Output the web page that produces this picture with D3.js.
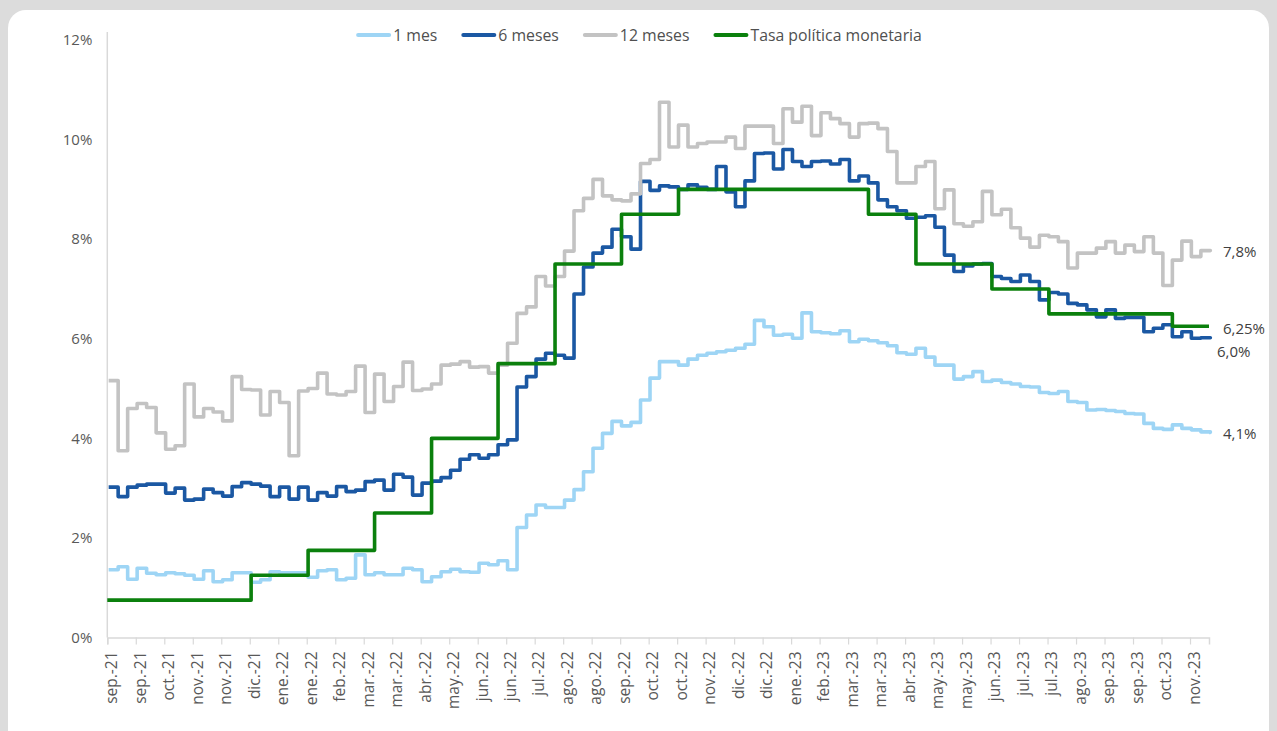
<!DOCTYPE html>
<html lang="es">
<head>
<meta charset="utf-8">
<script src="https://cdn.jsdelivr.net/npm/d3@7"></script>
<style>
  html, body { margin: 0; padding: 0; background: #dcdcdc; }
  svg { display: block; font-family: "Open Sans", "Noto Sans", sans-serif; }
</style>
</head>
<body>
<svg id="chart" width="1277" height="731"></svg>
<script>
// Weekly rates (%), one value per week starting 2021-09-01
const uno = [
  1.36, 1.42, 1.17, 1.39, 1.29, 1.26, 1.30, 1.28, 1.25, 1.17,
  1.34, 1.12, 1.16, 1.30, 1.30, 1.11, 1.16, 1.32, 1.30, 1.30,
  1.30, 1.21, 1.34, 1.36, 1.16, 1.19, 1.66, 1.26, 1.30, 1.26,
  1.26, 1.39, 1.36, 1.12, 1.22, 1.32, 1.37, 1.32, 1.31, 1.49,
  1.46, 1.54, 1.36, 2.21, 2.46, 2.66, 2.61, 2.61, 2.76, 2.97,
  3.33, 3.80, 4.10, 4.34, 4.25, 4.32, 4.77, 5.21, 5.54, 5.54,
  5.47, 5.59, 5.67, 5.71, 5.74, 5.77, 5.81, 5.89, 6.37, 6.24,
  6.07, 6.09, 6.01, 6.52, 6.14, 6.12, 6.10, 6.16, 5.94, 5.99,
  5.96, 5.92, 5.86, 5.72, 5.69, 5.81, 5.63, 5.47, 5.47, 5.19,
  5.24, 5.34, 5.14, 5.17, 5.12, 5.09, 5.04, 5.03, 4.92, 4.90,
  4.94, 4.74, 4.72, 4.57, 4.58, 4.56, 4.54, 4.50, 4.49, 4.30,
  4.20, 4.18, 4.27, 4.20, 4.17, 4.13, 4.12
];
const seis = [
  3.02, 2.83, 3.02, 3.06, 3.08, 3.08, 2.90, 3.00, 2.76, 2.78,
  2.98, 2.91, 2.84, 3.03, 3.11, 3.08, 3.04, 2.83, 3.02, 2.78,
  3.02, 2.76, 2.91, 2.84, 3.03, 2.93, 2.96, 3.13, 3.16, 2.96,
  3.28, 3.22, 2.86, 3.10, 3.14, 3.21, 3.36, 3.58, 3.67, 3.60,
  3.67, 3.87, 3.97, 5.03, 5.24, 5.59, 5.71, 5.67, 5.61, 6.90,
  7.44, 7.72, 7.84, 8.20, 8.05, 7.80, 9.16, 8.98, 9.07, 9.05,
  9.00, 9.09, 9.04, 9.00, 9.46, 8.95, 8.65, 9.17, 9.72, 9.73,
  9.41, 9.80, 9.56, 9.46, 9.56, 9.57, 9.51, 9.60, 9.17, 9.27,
  9.13, 8.79, 8.65, 8.57, 8.42, 8.44, 8.47, 8.24, 7.68, 7.35,
  7.46, 7.50, 7.51, 7.25, 7.21, 7.15, 7.28, 7.15, 6.78, 6.93,
  6.90, 6.71, 6.68, 6.58, 6.44, 6.58, 6.41, 6.43, 6.43, 6.14,
  6.21, 6.28, 6.04, 6.14, 6.01, 6.02, 6.02
];
const doce = [
  5.16, 3.75, 4.60, 4.70, 4.62, 4.11, 3.78, 3.85, 5.09, 4.43,
  4.60, 4.53, 4.35, 5.24, 4.98, 4.97, 4.47, 4.94, 4.72, 3.65,
  4.95, 5.00, 5.31, 4.89, 4.87, 4.94, 5.45, 4.52, 5.29, 4.74,
  5.04, 5.53, 4.96, 4.99, 5.09, 5.47, 5.49, 5.54, 5.43, 5.44,
  5.31, 5.47, 5.91, 6.51, 6.64, 7.25, 7.06, 7.25, 7.76, 8.57,
  8.82, 9.20, 8.87, 8.79, 8.77, 8.91, 9.52, 9.60, 10.75, 9.85,
  10.29, 9.85, 9.92, 9.95, 9.95, 10.05, 9.82, 10.27, 10.27, 10.27,
  9.92, 10.62, 10.35, 10.67, 10.08, 10.54, 10.42, 10.32, 10.05, 10.32,
  10.33, 10.22, 9.76, 9.13, 9.13, 9.46, 9.56, 8.61, 8.99, 8.31,
  8.26, 8.35, 8.96, 8.49, 8.60, 8.23, 8.02, 7.84, 8.08, 8.05,
  7.95, 7.42, 7.72, 7.72, 7.82, 7.95, 7.72, 7.88, 7.75, 8.05,
  7.72, 7.07, 7.58, 7.96, 7.65, 7.77, 7.77
];

// Monetary policy rate: effective dates and levels (%)
const tpmDates = [
  "2021-09-01", "2021-12-16", "2022-01-27", "2022-03-17", "2022-04-28",
  "2022-06-16", "2022-07-28", "2022-09-15", "2022-10-27", "2023-03-16",
  "2023-04-20", "2023-06-15", "2023-07-27", "2023-10-26"
];
const tpmValues = [0.75, 1.25, 1.75, 2.5, 4.0, 5.5, 7.5, 8.5, 9.0, 8.5, 7.5, 7.0, 6.5, 6.25];

// Axis labels (one every 21 days from the first date)
const xTickLabels = [
  "sep.-21", "sep.-21", "oct.-21", "nov.-21", "nov.-21", "dic.-21", "ene.-22", "ene.-22",
  "feb.-22", "mar.-22", "mar.-22", "abr.-22", "may.-22", "jun.-22", "jun.-22", "jul.-22",
  "ago.-22", "ago.-22", "sep.-22", "oct.-22", "oct.-22", "nov.-22", "dic.-22", "dic.-22",
  "ene.-23", "feb.-23", "mar.-23", "mar.-23", "abr.-23", "may.-23", "may.-23", "jun.-23",
  "jul.-23", "jul.-23", "ago.-23", "sep.-23", "sep.-23", "oct.-23", "nov.-23"
];
const yTicks = [0, 2, 4, 6, 8, 10, 12];

const seriesNames = ["1 mes", "6 meses", "12 meses", "Tasa política monetaria"];
const endLabels = ["4,1%", "6,0%", "7,8%", "6,25%"];

// ---------------------------------------------------------------
const parse = d3.timeParse("%Y-%m-%d");
const startDate = parse("2021-09-01");
const endDate = parse("2023-11-22");

const colors = ["#9ed5f5", "#1b58a3", "#c3c3c3", "#0b800d"];

const svg = d3.select("#chart");

// card
svg.append("rect").attr("x", 0).attr("y", 0).attr("width", 1277).attr("height", 731).attr("fill", "#dcdcdc");
svg.append("rect").attr("x", 8).attr("y", 10).attr("width", 1261).attr("height", 780)
  .attr("rx", 18).attr("fill", "#ffffff");

const x = d3.scaleTime().domain([startDate, endDate]).range([107.3, 1209]);
const y = d3.scaleLinear().domain([0, 12]).range([637.5, 40]);

const weekDates = uno.map((_, i) => d3.timeDay.offset(startDate, 7 * i + 1));
const tickDates = xTickLabels.map((_, i) => d3.timeDay.offset(startDate, 21 * i));

// y axis
svg.append("line")
  .attr("x1", x.range()[0]).attr("x2", x.range()[0])
  .attr("y1", 32).attr("y2", y(0))
  .attr("stroke", "#d9d9d9").attr("stroke-width", 1.5);

const yAxis = svg.append("g")
  .attr("transform", `translate(${x.range()[0]},0)`)
  .call(d3.axisLeft(y).tickValues(yTicks).tickSize(0).tickPadding(15)
    .tickFormat(d => d + "%"));
yAxis.select(".domain").remove();
yAxis.selectAll("text")
  .attr("fill", "#595959").attr("font-size", 15)
  .attr("font-family", "'Open Sans', sans-serif");

// x axis
const xAxis = svg.append("g")
  .attr("transform", `translate(0,${y(0)})`)
  .call(d3.axisBottom(x).tickValues(tickDates).tickSize(7)
    .tickFormat((d, i) => xTickLabels[i]));
xAxis.select(".domain").attr("stroke", "#d9d9d9").attr("stroke-width", 1.5);
xAxis.selectAll(".tick line").attr("stroke", "#d9d9d9").attr("stroke-width", 1.2);
xAxis.selectAll(".tick text")
  .attr("fill", "#595959").attr("font-size", 15.5)
  .attr("font-family", "'Open Sans', sans-serif")
  .attr("text-anchor", "end")
  .attr("transform", "translate(0,14) rotate(-90)")
  .attr("x", 0).attr("y", 0).attr("dy", "0.6em");

// series
const lineGen = d3.line()
  .x(d => x(d.date)).y(d => y(d.v))
  .curve(d3.curveStepAfter);

function weekly(values) {
  const pts = values.map((v, i) => ({ date: weekDates[i], v }));
  pts.push({ date: endDate, v: values[values.length - 1] });
  return pts;
}
const tpmPts = tpmDates.map((d, i) => ({ date: parse(d), v: tpmValues[i] }));
tpmPts.push({ date: endDate, v: tpmValues[tpmValues.length - 1] });

const allSeries = [weekly(uno), weekly(seis), weekly(doce), tpmPts];

const plot = svg.append("g");
allSeries.forEach((pts, i) => {
  plot.append("path")
    .datum(pts)
    .attr("d", lineGen)
    .attr("fill", "none")
    .attr("stroke", colors[i])
    .attr("stroke-width", 3.6)
    .attr("stroke-linejoin", "round");
});

// end labels
const endOffsets = [[14, 1], [8, 14], [14, 1], [14, 2]];
allSeries.forEach((pts, i) => {
  const last = pts[pts.length - 1];
  svg.append("text")
    .attr("x", x(last.date) + endOffsets[i][0])
    .attr("y", y(last.v) + endOffsets[i][1])
    .attr("dy", "0.35em")
    .attr("fill", "#404040")
    .attr("font-size", 15)
    .text(endLabels[i]);
});

// legend
const legend = svg.append("g").attr("transform", "translate(0,35)");
const items = legend.selectAll("g").data(seriesNames).join("g");
items.append("text")
  .attr("x", 37).attr("dy", "0.35em")
  .attr("fill", "#505050").attr("font-size", 15.8)
  .text(d => d);
items.append("line")
  .attr("x1", 2).attr("x2", 33)
  .attr("stroke", (d, i) => colors[i])
  .attr("stroke-width", 4).attr("stroke-linecap", "round");

const widths = [];
items.each(function () { widths.push(37 + this.querySelector("text").getComputedTextLength()); });
const gap = 24;
const total = d3.sum(widths) + gap * (widths.length - 1);
let cx = 639 - total / 2;
items.attr("transform", (d, i) => {
  const t = `translate(${cx},0)`;
  cx += widths[i] + gap;
  return t;
});
</script>
</body>
</html>
